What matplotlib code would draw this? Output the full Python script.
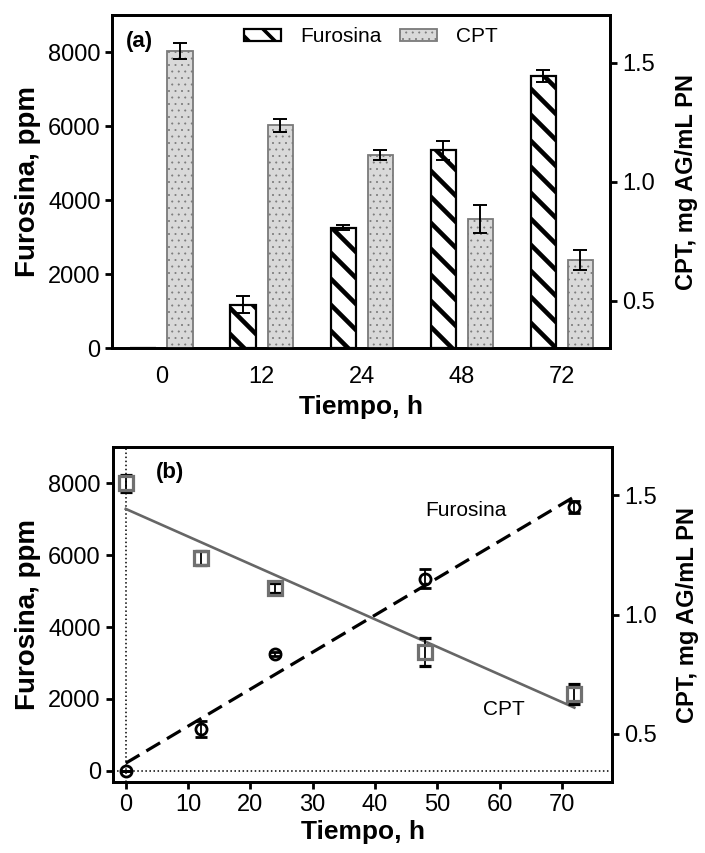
import numpy as np
import matplotlib
matplotlib.use("Agg")
import matplotlib.pyplot as plt

plt.rcParams["font.family"] = ["Liberation Sans", "DejaVu Sans"]

# ==================================
# Data
# ==================================
tiempo_labels = ["0", "12", "24", "48", "72"]
tiempo_h = [0, 12, 24, 48, 72]

furosina = [0, 1170, 3260, 5350, 7350]
furosina_err = [0, 230, 60, 255, 170]

cpt = [1.549, 1.236, 1.111, 0.843, 0.669]
cpt_err = [0.035, 0.028, 0.020, 0.058, 0.042]

# render at 78 dpi so the hatch tile gives ~13 px stripe spacing;
# K rescales point sizes so they look as they would at 100 dpi
DPI = 78
K = 100 / DPI

TICK_FS = 17 * K
LABEL_FS = 20 * K
RLABEL_FS = 17 * K
TEXT_FS = 15 * K

fig = plt.figure(figsize=(705 / DPI, 853 / DPI), dpi=DPI)
ax_a = fig.add_axes([0.1584, 0.5917, 0.7068, 0.3907])
ax_b = fig.add_axes([0.1607, 0.0836, 0.7070, 0.3920])


def style_spines(ax):
    for s in ax.spines.values():
        s.set_linewidth(2 * K)
        s.set_color("black")


def hatch_lw(patches, lw):
    for p in patches:
        if hasattr(p, "set_hatch_linewidth"):
            p.set_hatch_linewidth(lw)


# ==================================
# Panel (a): bars
# ==================================
x = np.arange(len(tiempo_labels))
w = 0.255
off = 0.185

plt.rcParams["hatch.linewidth"] = 3.3 * K
bars_f = ax_a.bar(x - off, furosina, w, color="white", edgecolor="black",
                  hatch="\\", linewidth=1.6 * K, label="Furosina", zorder=2)
ax_a.errorbar(x - off, furosina, yerr=furosina_err, fmt="none",
              ecolor="black", elinewidth=1.4 * K, capsize=5 * K,
              capthick=1.4 * K, zorder=3)

ax_a2 = ax_a.twinx()
plt.rcParams["hatch.linewidth"] = 0.5 * K
bars_c = ax_a2.bar(x + off, cpt, w, color="#d9d9d9", edgecolor="#7a7a7a",
                   hatch="..", linewidth=1.3 * K, label="CPT", zorder=2)
ax_a2.errorbar(x + off, cpt, yerr=cpt_err, fmt="none",
               ecolor="black", elinewidth=1.4 * K, capsize=5 * K,
               capthick=1.4 * K, zorder=3)

hatch_lw(bars_f, 3.3 * K)
hatch_lw(bars_c, 0.5 * K)

ax_a.set_xlim(-0.5, 4.48)
ax_a.set_ylim(0, 9000)
ax_a2.set_ylim(0.3, 1.7)
ax_a.set_xticks(x)
ax_a.set_xticklabels(tiempo_labels)
ax_a.set_yticks([0, 2000, 4000, 6000, 8000])
ax_a2.set_yticks([0.5, 1.0, 1.5])
ax_a.tick_params(axis="x", length=0, pad=13 * K, labelsize=TICK_FS)
ax_a.tick_params(axis="y", direction="out", length=5 * K, width=2 * K,
                 pad=3 * K, labelsize=TICK_FS)
ax_a2.tick_params(axis="y", direction="out", length=5 * K, width=2 * K,
                  pad=4 * K, labelsize=TICK_FS)

ax_a.set_xlabel("Tiempo, h", fontsize=LABEL_FS * 0.95, fontweight="bold", labelpad=5 * K)
ax_a.set_ylabel("Furosina, ppm", fontsize=LABEL_FS, fontweight="bold", labelpad=5 * K)
ax_a2.set_ylabel("CPT, mg AG/mL PN", fontsize=RLABEL_FS, fontweight="bold", labelpad=14 * K)

ax_a.text(0.029, 0.92, "(a)", transform=ax_a.transAxes, fontsize=16 * K,
          fontweight="bold", va="center")

leg = ax_a2.legend([bars_f, bars_c], ["Furosina", "CPT"], loc="center",
                   bbox_to_anchor=(0.52, 0.935), ncol=2, frameon=False,
                   fontsize=TEXT_FS, handlelength=1.8, handleheight=0.5,
                   handletextpad=0.9, columnspacing=0.9)
hatch_lw(leg.legend_handles[:1], 2.6 * K)
hatch_lw(leg.legend_handles[1:], 0.5 * K)

style_spines(ax_a)
style_spines(ax_a2)

# ==================================
# Panel (b): points + linear fits
# ==================================
ax_b.axvline(0, color="black", ls=":", lw=1.1 * K, zorder=1)
ax_b.axhline(0, color="black", ls=":", lw=1.1 * K, zorder=1)

t_fit = np.array([0, 72])
fit_f = np.polyfit(tiempo_h, furosina, 1)
ax_b.plot(t_fit, np.polyval(fit_f, t_fit), color="black",
          ls=(0, (5, 2.5)), lw=2.3 * K, zorder=2)
ax_b.errorbar(tiempo_h, furosina, yerr=furosina_err, fmt="o", ms=8 * K,
              mfc="none", mec="black", mew=2 * K, ecolor="black",
              elinewidth=1.3 * K, capsize=4 * K, capthick=1.3 * K, zorder=3)

ax_b2 = ax_b.twinx()
fit_c = np.polyfit(tiempo_h, cpt, 1)
ax_b2.plot(t_fit, np.polyval(fit_c, t_fit), color="#666666", lw=1.9 * K, zorder=2)
ax_b2.errorbar(tiempo_h, cpt, yerr=cpt_err, fmt="s", ms=9.5 * K,
               mfc="none", mec="#707070", mew=2.3 * K, ecolor="black",
               elinewidth=1.3 * K, capsize=4 * K, capthick=1.3 * K, zorder=3)

ax_b.text(48, 7230, "Furosina", fontsize=TEXT_FS, va="center")
ax_b.text(57.3, 1710, "CPT", fontsize=TEXT_FS, va="center")
ax_b.text(0.0857, 0.925, "(b)", transform=ax_b.transAxes, fontsize=16 * K,
          fontweight="bold", va="center")

ax_b.set_xlim(-2, 78)
ax_b.set_ylim(-300, 9000)
ax_b2.set_ylim(0.3, 1.7)
ax_b.set_xticks(range(0, 80, 10))
ax_b.set_yticks([0, 2000, 4000, 6000, 8000])
ax_b2.set_yticks([0.5, 1.0, 1.5])
ax_b.tick_params(axis="both", direction="out", length=5 * K, width=2 * K,
                 pad=4 * K, labelsize=TICK_FS)
ax_b2.tick_params(axis="y", direction="out", length=5 * K, width=2 * K,
                  pad=4 * K, labelsize=TICK_FS)

ax_b.set_xlabel("Tiempo, h", fontsize=LABEL_FS * 0.95, fontweight="bold", labelpad=3 * K)
ax_b.set_ylabel("Furosina, ppm", fontsize=LABEL_FS, fontweight="bold", labelpad=5 * K)
ax_b2.set_ylabel("CPT, mg AG/mL PN", fontsize=RLABEL_FS, fontweight="bold", labelpad=14 * K)

style_spines(ax_b)
style_spines(ax_b2)

fig.savefig("out.png", dpi=DPI)
